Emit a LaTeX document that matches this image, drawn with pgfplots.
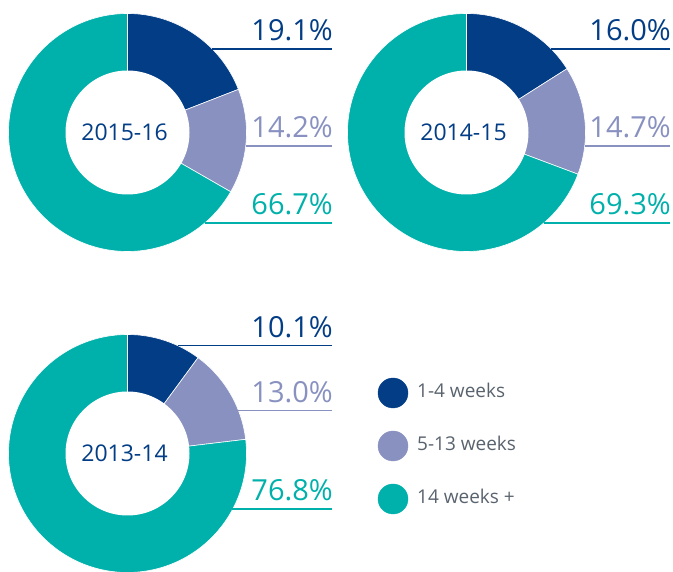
\documentclass[border=0pt]{standalone}
\usepackage{pgfplots}
\pgfplotsset{compat=1.18}
\usepackage{fontspec}
\setmainfont{Open Sans}
\definecolor{cdark}{RGB}{2,61,133}
\definecolor{clav}{RGB}{136,145,192}
\definecolor{cteal}{RGB}{0,176,170}
\definecolor{cgray}{RGB}{89,99,110}
% donut: cx, cy, v1, v2, v3, label
\newcommand\donut[6]{%
  \fill[cdark,draw=white,line width=0.6pt] (axis cs:#1,#2) -- ++(90:119pt) arc[start angle=90, end angle={90-3.6*#3}, radius=119pt] -- cycle;
  \fill[clav,draw=white,line width=0.6pt] (axis cs:#1,#2) -- ++({90-3.6*#3}:119pt) arc[start angle={90-3.6*#3}, end angle={90-3.6*(#3+#4)}, radius=119pt] -- cycle;
  \fill[cteal,draw=white,line width=0.6pt] (axis cs:#1,#2) -- ++({90-3.6*(#3+#4)}:119pt) arc[start angle={90-3.6*(#3+#4)}, end angle=-270, radius=119pt] -- cycle;
  \fill[white] (axis cs:#1,#2) circle[radius=62pt];
  \node[text=cdark,font=\fontsize{23}{28}\selectfont] at (axis cs:#1-3,#2) {#6};
}
% label line: xstart, y, xend, colour, text
\newcommand\plabel[5]{%
  \draw[#4,line width=1.4pt] (axis cs:#1,#2) -- (axis cs:#3,#2);
  \node[anchor=base east,inner sep=0pt,text=#4,font=\fontsize{29}{34}\selectfont] at (axis cs:#3+1,#2+8.5) {#5};
}
\begin{document}
\begin{tikzpicture}
\begin{axis}[x=1pt,y=1pt,xmin=0,xmax=673,ymin=0,ymax=572,hide axis,clip=false]
\coordinate (BBa) at (axis cs:0,0);
\coordinate (BBb) at (axis cs:673,572);
% 2015-16
\donut{127.5}{439.5}{19.1}{14.2}{66.7}{2015-16}
\plabel{212}{523}{332}{cdark}{19.1\%}
\plabel{246}{426}{332}{clav}{14.2\%}
\plabel{205}{349}{332}{cteal}{66.7\%}
% 2014-15
\donut{466.5}{439.5}{16.0}{14.7}{69.3}{2014-15}
\plabel{551}{523}{670}{cdark}{16.0\%}
\plabel{585}{426}{670}{clav}{14.7\%}
\plabel{544}{349}{670}{cteal}{69.3\%}
% 2013-14
\donut{127.5}{118.5}{10.1}{13.0}{76.8}{2013-14}
\plabel{178}{226.3}{332}{cdark}{10.1\%}
\plabel{238}{161.3}{332}{clav}{13.0\%}
\plabel{232}{63}{332}{cteal}{76.8\%}
% legend
\addplot[only marks,mark=*,mark size=15pt,color=cdark] coordinates {(393,179)};
\addplot[only marks,mark=*,mark size=15pt,color=clav] coordinates {(393,126)};
\addplot[only marks,mark=*,mark size=15pt,color=cteal] coordinates {(393,73)};
\node[anchor=base west,inner sep=0pt,text=cgray,font=\fontsize{19}{24}\selectfont] at (axis cs:417,174.3) {1-4 weeks};
\node[anchor=base west,inner sep=0pt,text=cgray,font=\fontsize{19}{24}\selectfont] at (axis cs:417,121.3) {5-13 weeks};
\node[anchor=base west,inner sep=0pt,text=cgray,font=\fontsize{19}{24}\selectfont] at (axis cs:417,68) {14 weeks +};
\end{axis}
\pgfresetboundingbox
\useasboundingbox (BBa) rectangle (BBb);
\end{tikzpicture}
\end{document}
